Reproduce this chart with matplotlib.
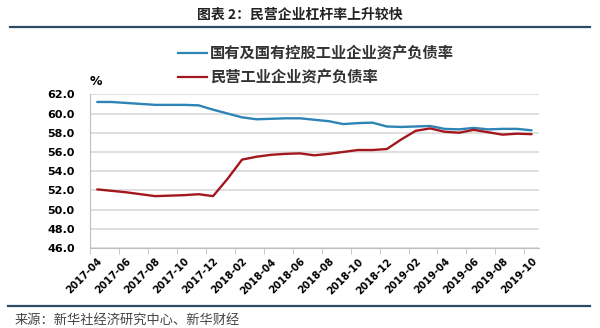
import numpy as np
import matplotlib.pyplot as plt
from matplotlib.lines import Line2D

plt.rcParams['font.family'] = ['Noto Sans CJK SC', 'DejaVu Sans']

months = ["2017-04", "2017-05", "2017-06", "2017-07", "2017-08", "2017-09", "2017-10",
          "2017-11", "2017-12", "2018-01", "2018-02", "2018-03", "2018-04", "2018-05",
          "2018-06", "2018-07", "2018-08", "2018-09", "2018-10", "2018-11", "2018-12",
          "2019-01", "2019-02", "2019-03", "2019-04", "2019-05", "2019-06", "2019-07",
          "2019-08", "2019-09", "2019-10"]

state_owned = [61.2, 61.2, 61.1, 61.0, 60.9, 60.9, 60.9, 60.85, 60.4, 60.0, 59.6,
               59.4, 59.45, 59.5, 59.5, 59.35, 59.2, 58.9, 59.0, 59.05, 58.65,
               58.6, 58.65, 58.7, 58.4, 58.35, 58.5, 58.35, 58.4, 58.4, 58.25]

private = [52.1, 51.95, 51.8, 51.6, 51.4, 51.45, 51.5, 51.6, 51.4, 53.2, 55.2,
           55.5, 55.7, 55.8, 55.85, 55.65, 55.8, 56.0, 56.2, 56.2, 56.3,
           57.3, 58.2, 58.45, 58.1, 58.0, 58.3, 58.05, 57.8, 57.9, 57.85]

names = ["国有及国有控股工业企业资产负债率", "民营工业企业资产负债率"]
blue = "#2E84B6"
red = "#A3181E"

fig = plt.figure(figsize=(6, 3.28), dpi=100)
ax = fig.add_axes([0.15, 0.2439, 0.748, 0.4686])

x = np.arange(len(months))
ax.plot(x, state_owned, color=blue, lw=1.7, solid_capstyle="round")
ax.plot(x, private, color=red, lw=1.7, solid_capstyle="round")

ax.set_xlim(-0.5, len(months) - 0.5)
ax.set_ylim(46, 62)
ax.set_yticks(np.arange(46, 62.1, 2))
ax.set_yticklabels([f"{v:.1f}" for v in np.arange(46, 62.1, 2)],
                   fontsize=8, fontweight="bold", family="DejaVu Sans")
ax.tick_params(axis="y", length=0, pad=11)
ax.grid(axis="y", color="#D9D9D9", lw=1.2)
ax.set_axisbelow(True)

ax.set_xticks(x[::2])
ax.set_xticklabels(months[::2], rotation=45, ha="right", rotation_mode="anchor",
                   fontsize=7.2, fontweight="bold", family="DejaVu Sans")
ax.set_xticks(np.arange(-0.5, len(months), 2), minor=True)
ax.tick_params(axis="x", which="major", length=0, pad=6)
ax.tick_params(axis="x", which="minor", length=4, color="#BFBFBF")

for s in ["top", "right"]:
    ax.spines[s].set_visible(False)
for s in ["left", "bottom"]:
    ax.spines[s].set_color("#BFBFBF")

ax.text(-0.5, 62.7, "%", fontsize=9, fontweight="bold", family="DejaVu Sans",
        ha="left", va="bottom")

# legend above the plot
for i, (name, col) in enumerate(zip(names, [blue, red])):
    yy = 1 - (53 + 24 * i) / 328
    fig.add_artist(Line2D([178 / 600, 207 / 600], [yy, yy], color=col, lw=1.6))
    fig.text(210 / 600, yy, name, fontsize=11, fontweight="bold",
             ha="left", va="center", color="#333333")

fig.text(0.5, 1 - 15 / 328, "图表 2：民营企业杠杆率上升较快", fontsize=10,
         fontweight="bold", ha="center", va="center", color="#222222")
fig.add_artist(Line2D([10 / 600, 590 / 600], [1 - 27 / 328, 1 - 27 / 328],
                      color="#2F4A63", lw=1.6))
fig.add_artist(Line2D([8 / 600, 590 / 600], [1 - 306 / 328, 1 - 306 / 328],
                      color="#2F4A63", lw=1.6))
fig.text(15 / 600, 1 - 320 / 328, "来源：新华社经济研究中心、新华财经", fontsize=9.5,
         ha="left", va="center", color="#444444")

fig.savefig("out.png", dpi=100, facecolor="white")
